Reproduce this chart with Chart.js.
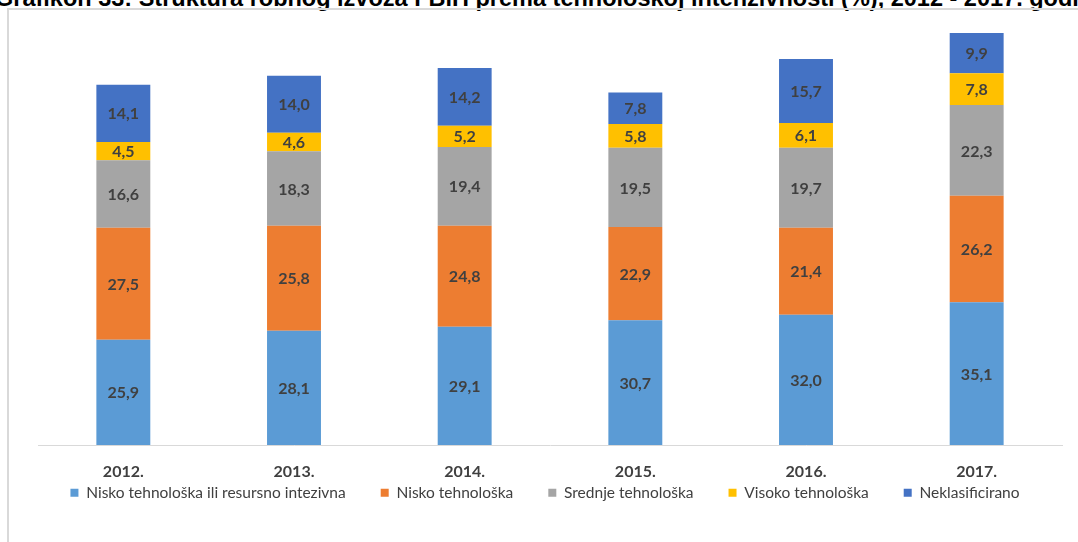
<!DOCTYPE html>
<html>
<head>
<meta charset="utf-8">
<script src="https://cdn.jsdelivr.net/npm/chart.js@4"></script>
<style>
    body { margin: 0; background: #fff; overflow: hidden; }
    .wrap { position: relative; width: 1078px; height: 542px; overflow: hidden; }
    .frame { position: absolute; left: 7px; top: 8px; width: 1200px; height: 700px;
             border-left: 2px solid #d9d9d9; border-top: 2px solid #d9d9d9; }
    .title { position: absolute; left: -5px; top: -15px; white-space: nowrap; line-height: 24px;
             font: bold 23.5px "Liberation Sans", Arial, sans-serif; color: #000; }
    canvas { position: absolute; left: 0; top: 0; }
</style>
</head>
<body>
<div class="wrap">
    <div class="title">Grafikon 33: Struktura robnog izvoza FBiH prema tehnološkoj intenzivnosti (%), 2012 - 2017. godina</div>
    <div class="frame"></div>
    <canvas id="exportChart" width="1078" height="542"></canvas>
</div>

<script>
const years = ["2012.", "2013.", "2014.", "2015.", "2016.", "2017."];

const niskoResursno = [25.9, 28.1, 29.1, 30.7, 32.0, 35.1];
const niskoTehn = [27.5, 25.8, 24.8, 22.9, 21.4, 26.2];
const srednjeTehn = [16.6, 18.3, 19.4, 19.5, 19.7, 22.3];
const visokoTehn = [4.5, 4.6, 5.2, 5.8, 6.1, 7.8];
const neklasificirano = [14.1, 14.0, 14.2, 7.8, 15.7, 9.9];

const seriesNames = [
    "Nisko tehnološka ili resursno intezivna",
    "Nisko tehnološka",
    "Srednje tehnološka",
    "Visoko tehnološka",
    "Neklasificirano"
];
const seriesColors = ["#5b9bd5", "#ed7d31", "#a5a5a5", "#ffc000", "#4472c4"];
const seriesValues = [niskoResursno, niskoTehn, srednjeTehn, visokoTehn, neklasificirano];

// values written in the middle of each segment, decimal comma
const segmentLabels = {
    id: "segmentLabels",
    afterDatasetsDraw(chart) {
        const ctx = chart.ctx;
        ctx.save();
        ctx.font = "bold 16px Lato, sans-serif";
        ctx.fillStyle = "#404040";
        ctx.textAlign = "center";
        ctx.textBaseline = "middle";
        chart.data.datasets.forEach((ds, i) => {
            chart.getDatasetMeta(i).data.forEach((bar, j) => {
                const y = (bar.y + bar.base) / 2;
                ctx.fillText(ds.data[j].toFixed(1).replace(".", ","), bar.x, y + 1);
            });
        });
        ctx.restore();
    }
};

// legend padding is wide for the horizontal gaps, so pull the row up closer to the year labels
const legendShift = {
    id: "legendShift",
    afterLayout(chart) {
        const lg = chart.legend;
        const dy = 450 - lg.top;
        lg.top += dy;
        lg.bottom += dy;
        lg.left -= 5;
        lg.right -= 5;
    }
};

new Chart(document.getElementById("exportChart"), {
    type: "bar",
    data: {
        labels: years,
        datasets: seriesNames.map((name, i) => ({
            label: name,
            data: seriesValues[i],
            backgroundColor: seriesColors[i],
            borderWidth: 0,
            barPercentage: 0.316,
            categoryPercentage: 1
        }))
    },
    options: {
        responsive: false,
        animation: false,
        devicePixelRatio: 1,
        layout: { padding: { left: 38, right: 16, top: 20, bottom: 0 } },
        scales: {
            x: {
                stacked: true,
                grid: { display: false, drawTicks: false },
                border: { display: true, color: "#d9d9d9", width: 1 },
                ticks: {
                    padding: 17,
                    color: "#404040",
                    font: { family: "Lato", size: 16, weight: "bold" }
                },
                afterFit(scale) { scale.height = 36.5; }
            },
            y: {
                stacked: true,
                display: false,
                min: 0,
                max: 104.5
            }
        },
        plugins: {
            tooltip: { enabled: false },
            legend: {
                position: "bottom",
                labels: {
                    boxWidth: 8,
                    boxHeight: 8,
                    padding: 35,
                    color: "#404040",
                    font: { family: "Lato", size: 15.5 }
                }
            }
        }
    },
    plugins: [segmentLabels, legendShift]
});
</script>
</body>
</html>
